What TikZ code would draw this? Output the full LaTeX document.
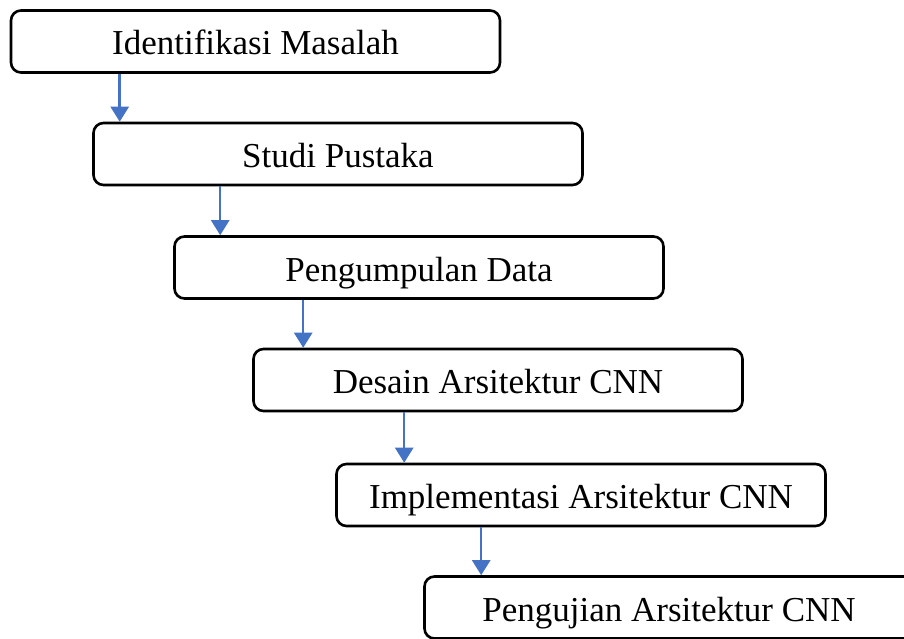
\documentclass[tikz,border=0pt]{standalone}
\usepackage{fontspec}
\setmainfont{Liberation Serif}
\usetikzlibrary{arrows.meta}

\definecolor{flowblue}{HTML}{4472C4}

\begin{document}
\begin{tikzpicture}[x=1pt,y=-1pt,inner sep=0pt,
  stepbox/.style={draw,line width=2.6pt,rounded corners=10pt,
    minimum width=489pt,minimum height=62pt,
    text height=27pt,text depth=0pt,
    font=\fontsize{35}{40}\selectfont},
  flow/.style={draw=flowblue,line width=2.5pt,
    -{Triangle[width=18pt,length=15pt]}}]

\useasboundingbox (0,0) rectangle (904,639);

\node[stepbox] (ident) at (255.5,41.5) {Identifikasi Masalah};
\node[stepbox] (studi) at (338,154) {Studi Pustaka};
\node[stepbox] (kumpul) at (419,267.5) {Pengumpulan Data};
\node[stepbox] (desain) at (498,380) {Desain Arsitektur CNN};
\node[stepbox] (impl) at (581,495) {Implementasi Arsitektur CNN};
\node[stepbox] (uji) at (669,607.5) {Pengujian Arsitektur CNN};


\draw[flow] ([xshift=110pt]ident.south west) coordinate (a1) -- (a1 |- studi.north);
\draw[flow] ([xshift=128pt]studi.south west) coordinate (a2) -- (a2 |- kumpul.north);
\draw[flow] ([xshift=130pt]kumpul.south west) coordinate (a3) -- (a3 |- desain.north);
\draw[flow] ([xshift=152pt]desain.south west) coordinate (a4) -- (a4 |- impl.north);
\draw[flow] ([xshift=146pt]impl.south west) coordinate (a5) -- (a5 |- uji.north);

\end{tikzpicture}
\end{document}
